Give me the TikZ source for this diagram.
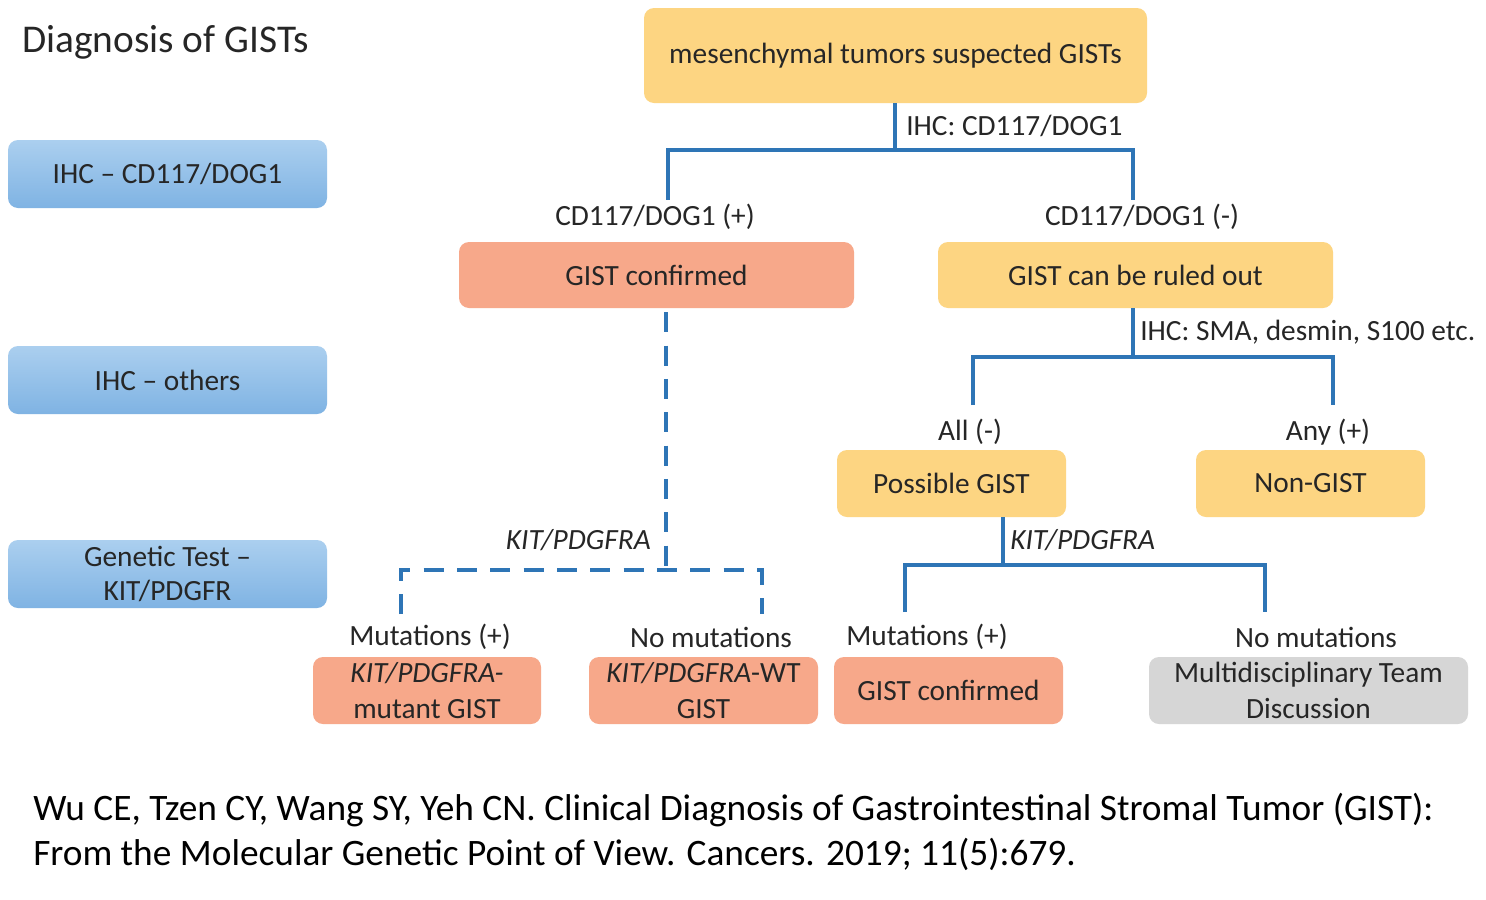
\documentclass[tikz,border=0pt]{standalone}
\usepackage{fontspec}
\setmainfont{Carlito}
\definecolor{ybox}{HTML}{FDD582}
\definecolor{sbox}{HTML}{F7A88A}
\definecolor{gbox}{HTML}{D6D6D6}
\definecolor{btop}{HTML}{ABCFEF}
\definecolor{bbot}{HTML}{7FB3E3}
\definecolor{lblue}{HTML}{2E75B6}
\definecolor{txt}{HTML}{262626}
\tikzset{
  base/.style={rounded corners=7.5pt, inner sep=0pt, align=center, text=txt,
    font=\fontsize{22}{27}\selectfont},
  yelbox/.style={base, fill=ybox},
  salbox/.style={base, fill=sbox},
  grybox/.style={base, fill=gbox},
  blubox/.style={base, top color=btop, bottom color=bbot, minimum width=239.25pt, minimum height=51pt, text=black!85},
  lab/.style={inner sep=0pt, text=txt, font=\fontsize{22}{27}\selectfont},
  conn/.style={draw=lblue, line width=3pt},
  dconn/.style={draw=lblue, line width=3pt, dash pattern=on 15pt off 10pt},
}
\begin{document}
\begin{tikzpicture}[x=0.75pt,y=-0.75pt]
\useasboundingbox (0,0) rectangle (1486,900);
\fill[white] (0,0) rectangle (1486,900);

% title
\node[lab, anchor=west, font=\fontsize{29.5}{34}\selectfont] (title) at (22,42) {Diagnosis of GISTs};

% left side boxes
\node[blubox] (lb1) at (167.5,174) {IHC -- CD117/DOG1};
\node[blubox] (lb2) at (167.5,380) {IHC -- others};
\node[blubox, font=\fontsize{22}{25}\selectfont] (lb3) at (167.5,574) {Genetic Test --\\KIT/PDGFR};

% main tree
\node[yelbox, minimum width=377.25pt, minimum height=71.25pt] (top) at (895.5,55.5) {mesenchymal tumors suspected GISTs};
\node[lab, anchor=west] (ihc1) at (906,126) {IHC: CD117/DOG1};

\node[lab] (plus) at (655,217) {CD117/DOG1 (+)};
\node[lab] (minus) at (1142,217) {CD117/DOG1 (-)};

\node[salbox, minimum width=296.25pt, minimum height=49.5pt] (conf) at (656.5,275) {GIST confirmed};
\node[yelbox, minimum width=296.25pt, minimum height=49.5pt] (rule) at (1135.5,275) {GIST can be ruled out};

\coordinate (j1) at (895,150);
\coordinate (e1L) at (668,198);
\coordinate (e1R) at (1133,198);
\draw[conn] (top.south -| j1) -- (j1);
\draw[conn, line cap=rect] (e1L) |- (j1) -| (e1R);

% right branch
\node[lab, anchor=west] (ihc2) at (1140,332) {IHC: SMA, desmin, S100 etc.};
\coordinate (j2) at (1133,357);
\coordinate (e2L) at (973,405);
\coordinate (e2R) at (1333,405);
\draw[conn] (rule.south -| j2) -- (j2);
\draw[conn] (e2L) |- (j2) -| (e2R);

\node[lab] (all) at (970,432) {All (-)};
\node[lab] (any) at (1328,432) {Any (+)};
\node[yelbox, minimum width=171.75pt, minimum height=50.25pt] (poss) at (951.5,483.5) {Possible GIST};
\node[yelbox, minimum width=171.75pt, minimum height=50.25pt] (non) at (1310.5,483.5) {Non-GIST};

\node[lab, anchor=west] (kit2) at (1010,540) {\itshape KIT/PDGFRA};
\coordinate (j3) at (1003,565);
\coordinate (e3L) at (905,612);
\coordinate (e3R) at (1265,612);
\draw[conn] (poss.south -| j3) -- (j3);
\draw[conn] (e3L) |- (j3) -| (e3R);

% left dashed branch
\node[lab, anchor=east] (kit1) at (651,540) {\itshape KIT/PDGFRA};
\coordinate (j4) at (666,570);
\coordinate (e4L) at (401,614);
\coordinate (e4R) at (762,614);
\draw[dconn] (conf.south -| j4) ++(0,4) -- (j4);
\draw[dconn] (e4L) |- (j4) -| (e4R);

% bottom labels
\node[lab] (m1) at (430,637) {Mutations (+)};
\node[lab] (n1) at (711,637) {No mutations};
\node[lab] (m2) at (927,637) {Mutations (+)};
\node[lab] (n2) at (1316,637) {No mutations};

% bottom boxes
\node[salbox, minimum width=171pt, minimum height=50.25pt, font=\fontsize{22}{26.5}\selectfont] (bA) at (427,690.5) {\itshape KIT/PDGFRA-\\mutant GIST};
\node[salbox, minimum width=171.75pt, minimum height=50.25pt, font=\fontsize{22}{26.5}\selectfont] (bB) at (703.5,690.5) {\textit{KIT/PDGFRA}-WT\\GIST};
\node[salbox, minimum width=171.75pt, minimum height=50.25pt] (bC) at (948.5,690.5) {GIST confirmed};
\node[grybox, minimum width=239.25pt, minimum height=50.25pt, font=\fontsize{22}{26.5}\selectfont] (bD) at (1308.5,690.5) {Multidisciplinary Team\\Discussion};

% citation
\node[inner sep=0pt, anchor=west, align=left, text=black, font=\fontsize{28}{34}\selectfont] (cite) at (33,832) {Wu CE, Tzen CY, Wang SY, Yeh CN. Clinical Diagnosis of Gastrointestinal Stromal Tumor (GIST):\\From the Molecular Genetic Point of View. Cancers. 2019; 11(5):679.};
\end{tikzpicture}
\end{document}
